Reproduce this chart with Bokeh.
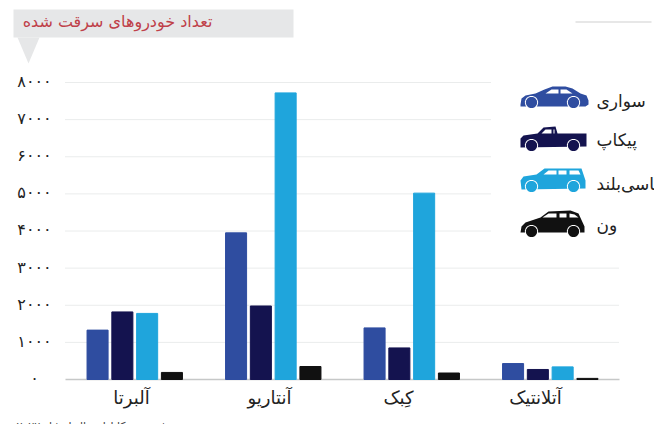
import numpy as np
from bokeh.embed import file_html
from bokeh.resources import INLINE
from bokeh.plotting import figure
from bokeh.models import (ColumnDataSource, Range1d, Label, BoxAnnotation, PolyAnnotation)

regions = ["آلبرتا", "آنتاریو", "کِبک", "آتلانتیک"]
vehicles = ["سواری", "پیکاپ", "شاسی‌بلند", "ون"]
sedan = [1330, 3950, 1390, 430]
pickup = [1820, 1980, 850, 270]
suv = [1780, 7720, 5020, 340]
van = [190, 350, 175, 30]
y_ticks = [0, 1000, 2000, 3000, 4000, 5000, 6000, 7000, 8000]
y_labels = ["۰", "۱۰۰۰", "۲۰۰۰", "۳۰۰۰", "۴۰۰۰", "۵۰۰۰", "۶۰۰۰", "۷۰۰۰", "۸۰۰۰"]
title_text = "تعداد خودروهای سرقت شده"
source_text = "منبع: دفتر بیمه کانادا، سال انتشار ۲۰۲۲"
colors = ["#2f4da0", "#14134f", "#1fa5dc", "#111111"]
FONT = "DejaVu Sans"

W, H = 654, 424
# The frame fills the page, so that titles, labels and legend are not clipped by it.
x_step = 138.5            # pixels per region
y_scale = 297 / 8000      # pixels per unit
x_start = -0.5 - 65 / x_step
x_end = (654 - 65) / x_step - 0.5
y_start = -45 / y_scale
y_end = 379 / y_scale

p = figure(width=W, height=H, x_range=Range1d(x_start, x_end), y_range=Range1d(y_start, y_end),
           output_backend="svg", toolbar_location=None, min_border=0, outline_line_color=None,
           x_axis_location=None, y_axis_location=None)
p.grid.visible = False

# grid lines: the upper ones stop short of the legend
axis_left, axis_right = -0.5, 3.5
legend_stop = (490 - 65) / x_step - 0.5
grid_y = [t for t in y_ticks if t > 0]
grid_x1 = [legend_stop if t >= 4000 else axis_right for t in grid_y]
p.segment(x0=[axis_left] * len(grid_y), x1=grid_x1, y0=grid_y, y1=grid_y,
          line_color="#d4d8d8", line_dash="1 1", line_width=1)
p.segment(x0=[axis_left], x1=[axis_right], y0=[0], y1=[0], line_color="#c6c8c8", line_width=1.5)

offsets = [-0.2685, -0.0895, 0.0895, 0.2685]
index = np.arange(len(regions))
for vals, off, col in zip([sedan, pickup, suv, van], offsets, colors):
    src = ColumnDataSource(dict(x=index + off, top=vals))
    p.vbar(x="x", top="top", bottom=0, width=0.152, color=col, source=src)


def poly(pts, color):
    xs, ys = zip(*pts)
    p.add_layout(PolyAnnotation(xs=list(xs), ys=list(ys), xs_units="canvas", ys_units="canvas",
                                fill_color=color, fill_alpha=1, line_color=None))


def box(l, r, t, b, color):
    p.add_layout(BoxAnnotation(left=l, right=r, top=t, bottom=b,
                               left_units="canvas", right_units="canvas",
                               top_units="canvas", bottom_units="canvas",
                               fill_color=color, fill_alpha=1, line_color=None))


def circle(cx, cy, r, color):
    a = np.linspace(0, 2 * np.pi, 32, endpoint=False)
    poly(list(zip(cx + r * np.cos(a), cy + r * np.sin(a))), color)


def text(x, y, s, size, color, align="left", base="middle"):
    p.add_layout(Label(x=x, y=y, x_units="canvas", y_units="canvas", text=s,
                       text_font=FONT, text_font_size=size, text_color=color,
                       text_align=align, text_baseline=base))


# title tab
box(13, 293, 9, 37, "#e6e7e8")
poly([(17, 37), (39, 37), (28, 63)], "#e6e7e8")
text(117, 21, title_text, "16px", "#bf4049", "center")
# stray rule top right
box(575, 651, 21, 22, "#cfd0d0")

# y tick labels
for t, s in zip(y_ticks, y_labels):
    p.add_layout(Label(x=34, x_units="canvas", y=t + 30, y_units="data", text=s, text_font=FONT,
                       text_font_size="16px", text_color="#222222", text_align="center",
                       text_baseline="middle"))

# category labels
for s, x in zip(regions, [131, 269, 398, 535]):
    text(x, 397, s, "18px", "#222222", "center")

# legend icons
car_shapes = [
    ([(520, 104), (521, 98), (525, 95), (535, 93), (544, 89), (552, 86), (565, 86), (572, 88),
      (580, 93), (586, 95), (588, 100), (588, 104), (585, 106), (520, 106)],
     [[(545, 93), (551, 89), (558, 89), (558, 93)], [(560, 89), (566, 89), (572, 93), (560, 93)]],
     102),
    ([(520, 147), (520, 138), (523, 135), (537, 133), (543, 127), (555, 126), (557, 133), (586, 133),
      (586, 146)],
     [[(541, 133), (545, 129), (551, 129), (551, 133)], [(553, 129), (554, 129), (554, 133), (553, 133)]],
     145),
    ([(521, 189), (520, 180), (523, 176), (536, 174), (544, 168), (581, 168), (585, 180), (585, 188)],
     [[(543, 174), (548, 170), (556, 170), (556, 174)], [(558, 170), (566, 170), (566, 174), (558, 174)],
      [(569, 170), (578, 170), (580, 174), (569, 174)]],
     186),
    ([(520, 232), (521, 226), (525, 222), (540, 217), (548, 211), (570, 210), (578, 213), (584, 226),
      (584, 232)],
     [[(542, 217), (548, 213), (556, 213), (556, 217)], [(559, 213), (566, 213), (566, 217), (559, 217)],
      [(569, 213), (574, 214), (578, 217), (569, 217)]],
     231),
]
legend_y = [100, 139, 183, 224]
for (body, wins, wy), col, name, ly in zip(car_shapes, colors, vehicles, legend_y):
    poly(body, col)
    for w in wins:
        poly(w, "#ffffff")
    for wx in (531, 573):
        circle(wx, wy, 6.6, "#ffffff")
        circle(wx, wy, 5.6, col)
    text(596, ly, name, "17px", "#222222")

# source line, cut by the page's lower edge
text(16, 419, source_text, "11px", "#444444", "left", "top")

open("out.html", "w").write(file_html(p, INLINE))
